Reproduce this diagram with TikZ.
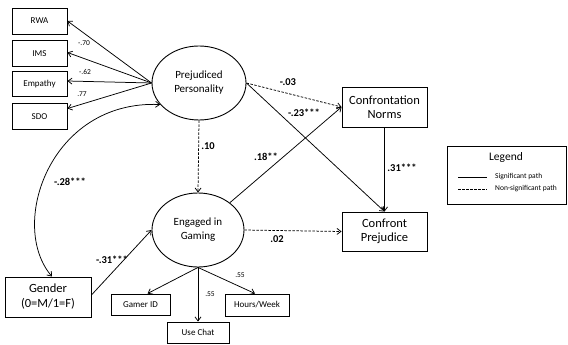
\documentclass[tikz,border=0pt]{standalone}
\usepackage{fontspec}
\setmainfont{Carlito}
\usetikzlibrary{shapes.geometric,arrows.meta}
\begin{document}
\begin{tikzpicture}[x=1pt,y=-1pt,
 big/.style={draw,line width=0.9pt,minimum width=85pt,minimum height=40pt,inner sep=0pt,align=center,font=\fontsize{12.5}{14}\selectfont},
 small/.style={draw,line width=0.9pt,inner sep=0pt,align=center,font=\fontsize{9}{10}\selectfont},
 lat/.style={draw,ellipse,line width=0.9pt,minimum width=94pt,minimum height=74pt,inner sep=0pt,align=center,font=\fontsize{11}{14}\selectfont},
 sig/.style={line width=0.75pt,-{Straight Barb[length=4pt,width=6pt]}},
 nsig/.style={sig,dash pattern=on 2.5pt off 1.5pt},
 blab/.style={font=\bfseries\fontsize{10.5}{12}\selectfont,inner sep=0pt},
 slab/.style={font=\fontsize{7.5}{8}\selectfont,inner sep=0pt},
]
\useasboundingbox (0,0) rectangle (568,345);

% indicator boxes
\node[small,minimum width=55pt,minimum height=26pt] (rwa) at (39.5,21) {RWA};
\node[small,minimum width=55pt,minimum height=26pt] (ims) at (39.5,53.5) {IMS};
\node[small,minimum width=55pt,minimum height=25pt] (emp) at (39.5,84) {Empathy};
\node[small,minimum width=55pt,minimum height=26pt] (sdo) at (39.5,116.5) {SDO};

% latent variables
\node[lat] (pp) at (199,83) {Prejudiced\\Personality};
\node[lat,minimum width=92pt] (eg) at (198,230) {Engaged in\\Gaming};

% observed outcomes
\node[big] (cn) at (384.5,107) {Confrontation\\Norms};
\node[big,minimum height=39pt] (cp) at (384.5,231.5) {Confront\\Prejudice};
\node[big,minimum width=86pt,font=\fontsize{12.5}{15}\selectfont] (gender) at (48,297) {Gender\\(0=M/1=F)};

% gaming indicators
\node[small,minimum width=59pt,minimum height=21pt] (gid) at (140.5,304.5) {Gamer ID};
\node[small,minimum width=62pt,minimum height=21pt] (uc) at (198,332.5) {Use Chat};
\node[small,minimum width=64pt,minimum height=22pt] (hw) at (257,305) {Hours/Week};

% measurement arrows
\draw[sig] (pp.west) -- (rwa.east);
\draw[sig] (pp.west) -- ([yshift=1pt]ims.east);
\draw[sig] (pp.west) -- ([yshift=3pt]emp.east);
\draw[sig] (pp.west) -- ([yshift=8pt]sdo.east);
\node[slab] (l70) at (84,43) {-.70};
\node[slab] (l62) at (85,72) {-.62};
\node[slab] (l77) at (82,94) {.77};

\draw[sig] (eg.south) -- ([xshift=7pt]gid.north);
\draw[sig] (eg.south) -- (uc.north);
\draw[sig] (eg.south) -- ([xshift=-2pt]hw.north);
\node[slab] (l55a) at (240,275) {.55};
\node[slab] (l55b) at (210,294) {.55};

% structural paths
\draw[nsig] (pp.east) -- (cn.west);
\draw[sig] (pp.east) -- (cp.north);
\draw[nsig] (pp.south) -- (eg.north);
\draw[sig] (eg) -- (cn.west);
\draw[sig] (cn.south) -- (cp.north);
\draw[nsig] (eg.east) -- (cp.west);
\draw[sig] ([yshift=2pt]gender.east) -- (eg.west);
\draw[line width=0.75pt,{Straight Barb[length=4pt,width=6pt]}-{Straight Barb[length=4pt,width=6pt]}]
  (pp.209) .. controls (50,100) and (8,225) .. ([xshift=4pt]gender.north);

\node[blab] (l03) at (288,82) {-.03};
\node[blab] (l23) at (304,113) {-.23***};
\node[blab] (l10) at (208,146) {.10};
\node[blab] (l18) at (266,157) {.18**};
\node[blab] (l31) at (402,168) {.31***};
\node[blab] (l02) at (277,239) {.02};
\node[blab] (l31b) at (112,260) {-.31***};
\node[blab] (l28) at (70,182) {-.28***};

% legend
\node[draw,line width=0.9pt,minimum width=119pt,minimum height=58pt,inner sep=0pt] (leg) at (506.5,175) {};
\node[font=\fontsize{11.5}{13}\selectfont,inner sep=0pt] (legt) at (506,157) {Legend};
\coordinate (s1) at (458,177);
\coordinate (s2) at (487,177);
\coordinate (d1) at (458,189);
\coordinate (d2) at (487,189);
\draw[line width=0.75pt] (s1) -- (s2);
\draw[line width=0.75pt,dash pattern=on 2.5pt off 1.5pt] (d1) -- (d2);
\node[slab,anchor=west] (lsig) at (495,177) {Significant path};
\node[slab,anchor=west] (lnsig) at (495,189) {Non-significant path};
\end{tikzpicture}
\end{document}
